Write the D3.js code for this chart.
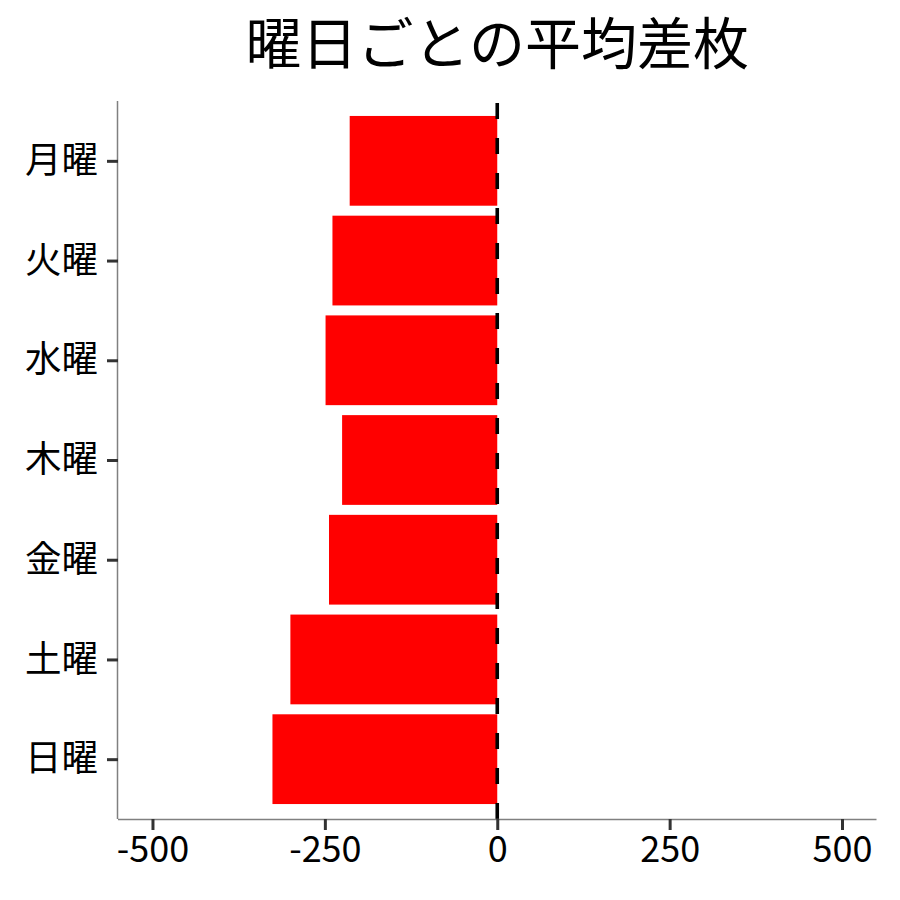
<!DOCTYPE html>
<html>
<head>
<meta charset="utf-8">
<script src="https://cdn.jsdelivr.net/npm/d3@7"></script>
<style>
  html, body { margin: 0; padding: 0; background: #fff; }
  svg { display: block; font-family: "Noto Sans CJK JP", "Noto Sans", sans-serif; }
</style>
</head>
<body>
<svg id="chart" width="900" height="900"></svg>
<script>
const days = ["月曜", "火曜", "水曜", "木曜", "金曜", "土曜", "日曜"];
const avgDiff = [-214, -239, -249, -225, -244, -300, -326];
const xTicks = [-500, -250, 0, 250, 500];
const title = "曜日ごとの平均差枚";

const svg = d3.select("#chart");
const panelLeft = 118, panelRight = 876.5, panelTop = 101, panelBottom = 819;

const x = d3.scaleLinear().domain([-550, 550]).range([panelLeft, panelRight]);
// discrete scale with 0.6 unit expansion each side
const y = d3.scalePoint().domain(days).range([panelTop, panelBottom]).padding(0.6);
const step = y.step();
const barH = step * 0.9;

const data = days.map((d, i) => ({ day: d, v: avgDiff[i] }));

svg.append("g").selectAll("rect").data(data).join("rect")
  .attr("x", d => x(Math.min(0, d.v)))
  .attr("width", d => Math.abs(x(d.v) - x(0)))
  .attr("y", d => y(d.day) - barH / 2)
  .attr("height", barH)
  .attr("fill", "#ff0000");

// zero dashed line
svg.append("line")
  .attr("x1", x(0)).attr("x2", x(0))
  .attr("y1", panelBottom).attr("y2", panelTop)
  .attr("stroke", "#000").attr("stroke-width", 3.6)
  .attr("stroke-dasharray", "16,19");

// x axis
const xAxis = svg.append("g").attr("transform", `translate(0,${panelBottom})`)
  .call(d3.axisBottom(x).tickValues(xTicks).tickSize(11).tickPadding(6));
xAxis.select(".domain").attr("stroke", "#808080").attr("stroke-width", 1.5)
  .attr("d", `M${panelLeft},0.5H${panelRight}`);
xAxis.selectAll(".tick line").attr("stroke", "#333").attr("stroke-width", 3);
xAxis.selectAll(".tick text").attr("fill", "#000").attr("font-size", 36)
  .attr("font-family", "'Noto Sans CJK JP', sans-serif")
  .text(d => d < 0 ? "-" + Math.abs(d) : String(d));

// y axis
const yAxis = svg.append("g").attr("transform", `translate(${panelLeft},0)`)
  .call(d3.axisLeft(y).tickSize(11).tickPadding(9));
yAxis.select(".domain").attr("stroke", "#808080").attr("stroke-width", 1.5)
  .attr("d", `M-0.5,${panelTop}V${panelBottom}`);
yAxis.selectAll(".tick line").attr("stroke", "#333").attr("stroke-width", 3);
yAxis.selectAll(".tick text").attr("fill", "#000").attr("font-size", 36.5)
  .attr("font-family", "'Noto Sans CJK JP', sans-serif");

// title
svg.append("text")
  .attr("x", (panelLeft + panelRight) / 2).attr("y", 64)
  .attr("text-anchor", "middle")
  .attr("font-size", 56)
  .attr("fill", "#000")
  .text(title);
</script>
</body>
</html>
